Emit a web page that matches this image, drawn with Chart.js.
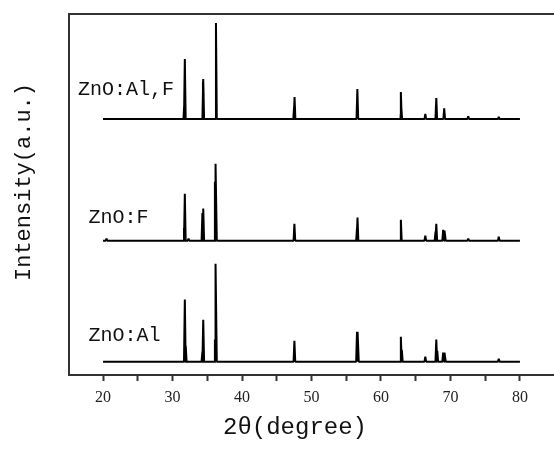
<!DOCTYPE html>
<html>
<head>
<meta charset="utf-8">
<script src="https://cdn.jsdelivr.net/npm/chart.js@4.4.0/dist/chart.umd.min.js"></script>
<style>
    html, body { margin: 0; padding: 0; background: #fff; overflow: hidden; }
    #wrap { width: 554px; height: 453px; }
</style>
</head>
<body>
<div id="wrap"><canvas id="xrd" width="554" height="453"></canvas></div>
<script>
// x axis ticks: every 5 degrees, labelled every 10
const xTicks = [20, 25, 30, 35, 40, 45, 50, 55, 60, 65, 70, 75, 80];
const xTickLabels = ['20', '', '30', '', '40', '', '50', '', '60', '', '70', '', '80'];

// scan range (2θ)
const scanStart = 20;
const scanEnd = 80;

// samples, top to bottom, and baseline offset of each pattern (a.u.)
const sampleNames = ['ZnO:Al,F', 'ZnO:F', 'ZnO:Al'];
const sampleOffsets = [709, 372, 37];

// peak positions (2θ) and heights above baseline (a.u.)
const alfPos = [31.70, 31.77, 34.38, 34.42, 36.25, 47.50, 47.56, 56.60, 62.86, 62.92, 66.38, 67.90, 67.96, 69.10, 72.56, 76.95];
const alfInt = [47, 166, 104, 111, 266, 33, 61, 83, 75, 33, 14, 36, 58, 30, 8, 6];

const fPos = [20.50, 31.65, 31.77, 32.30, 34.30, 34.42, 36.10, 36.25, 47.54, 56.55, 56.62, 62.86, 66.38, 67.85, 67.96, 68.95, 69.20, 72.56, 76.95];
const fInt = [6, 35, 130, 6, 77, 89, 163, 213, 47, 36, 64, 58, 14, 25, 47, 30, 28, 6, 11];

const alPos = [31.77, 31.90, 34.30, 34.42, 36.10, 36.25, 47.54, 56.55, 56.68, 62.86, 63.00, 66.38, 67.96, 68.10, 68.95, 69.20, 76.95];
const alInt = [172, 44, 28, 116, 61, 271, 58, 83, 80, 69, 33, 14, 61, 30, 25, 25, 8];

// half width of a peak at its base (2θ)
const peakHalfWidth = 0.12;

function buildPattern(positions, intensities, offset) {
    const points = [{ x: scanStart, y: offset }];
    positions.forEach((p, i) => {
        points.push({ x: p - peakHalfWidth, y: offset });
        points.push({ x: p, y: offset + intensities[i] });
        points.push({ x: p + peakHalfWidth, y: offset });
    });
    points.push({ x: scanEnd, y: offset });
    return points;
}

const patterns = [
    buildPattern(alfPos, alfInt, sampleOffsets[0]),
    buildPattern(fPos, fInt, sampleOffsets[1]),
    buildPattern(alPos, alInt, sampleOffsets[2])
];

// top edge of the frame, sample names and axis titles
const decorPlugin = {
    id: 'decor',
    afterDraw(chart) {
        const { ctx, chartArea, scales } = chart;
        ctx.save();
        ctx.strokeStyle = '#333';
        ctx.lineWidth = 2;
        ctx.beginPath();
        ctx.moveTo(chartArea.left, chartArea.top);
        ctx.lineTo(chart.width, chartArea.top);
        ctx.stroke();

        ctx.fillStyle = '#111';
        ctx.textBaseline = 'middle';
        ctx.textAlign = 'left';
        ctx.font = '20px "Liberation Mono", monospace';
        const labelAt = [[16.4, 789], [17.9, 435], [17.9, 108]];
        sampleNames.forEach((name, i) => {
            const px = scales.x.getPixelForValue(labelAt[i][0]);
            const py = scales.y.getPixelForValue(labelAt[i][1]);
            ctx.fillText(name, px, py);
        });

        ctx.textAlign = 'center';
        ctx.font = '24px "Liberation Mono", monospace';
        ctx.fillText('2θ(degree)', 295, 428);

        ctx.translate(24, 182);
        ctx.rotate(-Math.PI / 2);
        ctx.font = '22px "Liberation Mono", monospace';
        ctx.fillText('Intensity(a.u.)', 0, 0);
        ctx.restore();
    }
};

new Chart(document.getElementById('xrd'), {
    type: 'scatter',
    data: {
        datasets: patterns.map((pts, i) => ({
            label: sampleNames[i],
            data: pts,
            showLine: true,
            borderColor: '#000',
            borderWidth: 2,
            borderJoinStyle: 'bevel',
            pointRadius: 0,
            tension: 0
        }))
    },
    options: {
        responsive: false,
        animation: false,
        layout: { padding: { top: 14, right: 0, left: 0, bottom: 0 } },
        plugins: {
            legend: { display: false },
            tooltip: { enabled: false }
        },
        scales: {
            x: {
                type: 'linear',
                min: 15.1,
                max: 84.9,
                afterFit(scale) { scale.height = 78; },
                afterBuildTicks(scale) {
                    scale.ticks = xTicks.map(v => ({ value: v }));
                },
                ticks: {
                    autoSkip: false,
                    maxRotation: 0,
                    padding: 7,
                    color: '#222',
                    font: { family: '"Liberation Serif", serif', size: 16 },
                    callback: (value) => xTickLabels[xTicks.indexOf(value)]
                },
                grid: {
                    display: true,
                    drawOnChartArea: false,
                    drawTicks: true,
                    tickLength: 6,
                    tickWidth: 2,
                    tickColor: '#333'
                },
                border: { display: true, color: '#333', width: 2 }
            },
            y: {
                min: 0,
                max: 1000,
                afterFit(scale) { scale.width = 69; },
                ticks: { display: false },
                grid: { display: false },
                border: { display: true, color: '#333', width: 2 }
            }
        }
    },
    plugins: [decorPlugin]
});
</script>
</body>
</html>
